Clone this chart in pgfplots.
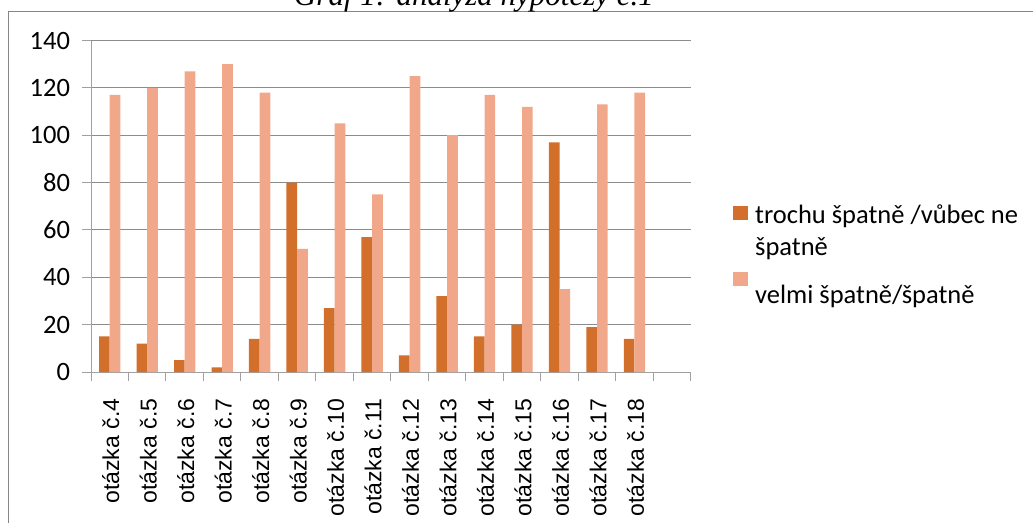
\documentclass[border=0pt]{standalone}
\usepackage{graphicx}
\usepackage{pgfplots}
\pgfplotsset{compat=1.18}
\usepackage{fontspec}
\setmainfont{Carlito}
\newfontfamily\arialfont{Liberation Sans}
\newfontfamily\timesfont{Liberation Serif}
\definecolor{darkbar}{RGB}{209,111,43}
\definecolor{lightbar}{RGB}{241,168,138}
\definecolor{gridgray}{RGB}{140,140,140}
\definecolor{axisgray}{RGB}{160,160,160}
\definecolor{framegray}{RGB}{134,134,134}
\newcommand{\rl}[1]{\rotatebox{90}{#1}}
\pgfplotsset{sqlegend/.style={legend image code/.code={\fill[##1] (0bp,-5bp) rectangle (15bp,9bp);}}}
\begin{document}
\begin{tikzpicture}[font=\fontsize{26.5bp}{32bp}\selectfont]
\useasboundingbox (0bp,0bp) rectangle (1033bp,-523bp);
\begin{scope}
\clip (0bp,0bp) rectangle (1033bp,-523bp);
\draw[framegray, line width=1bp] (8bp,-700bp) -- (8bp,-11bp) -- (1100bp,-11bp);
\node[anchor=base, font=\timesfont\itshape\fontsize{31bp}{36bp}\selectfont] at (474bp,-5bp) {Graf 1: analýza hypotézy č.1};
\end{scope}
\begin{axis}[
  at={(91bp,-372bp)}, anchor=south west,
  scale only axis, width=599.7bp, height=331.5bp,
  xmin=0.5, xmax=16.5, ymin=0, ymax=140,
  ytick={0,20,...,140},
  xtick={0.5,1.5,...,16.5},
  x tick label as interval,
  xticklabels={\rl{otázka č.4},\rl{otázka č.5},\rl{otázka č.6},\rl{otázka č.7},\rl{otázka č.8},\rl{otázka č.9},\rl{otázka č.10},\rl{otázka č.11},\rl{otázka č.12},\rl{otázka č.13},\rl{otázka č.14},\rl{otázka č.15},\rl{otázka č.16},\rl{otázka č.17},\rl{otázka č.18},{}},
  xticklabel style={font=\arialfont\fontsize{23bp}{27bp}\selectfont, anchor=north, inner sep=0pt, yshift=-18bp, xshift=1bp},
  yticklabel style={font=\fontsize{26.5bp}{32bp}\selectfont, xshift=-9bp},
  /pgf/number format/assume math mode=true,
  axis x line*=bottom, axis y line*=left,
  axis line style={axisgray, line width=1bp},
  tick align=outside, major tick length=8.5bp,
  tick style={axisgray, line width=1bp},
  ymajorgrids, grid style={gridgray, line width=1bp},
  ybar, bar width=0.285,
  legend style={at={(1.0705,0.5038)}, anchor=north west, draw=none, fill=none, inner sep=0pt,
    nodes={inner sep=0pt}, column sep=7bp, row sep=0pt, font=\fontsize{26.5bp}{32bp}\selectfont},
  legend cell align=left,
]
\addplot[fill=darkbar, draw=none, bar shift=-0.1425, sqlegend] coordinates {
(1,15) (2,12) (3,5) (4,2) (5,14) (6,80) (7,27) (8,57) (9,7) (10,32) (11,15) (12,20) (13,97) (14,19) (15,14)};
\addlegendentry{trochu špatně /vůbec ne}
\addlegendimage{empty legend}
\addlegendentry{\rule{0pt}{30bp}špatně}
\addplot[fill=lightbar, draw=none, bar shift=0.1425, sqlegend] coordinates {
(1,117) (2,120) (3,127) (4,130) (5,118) (6,52) (7,105) (8,75) (9,125) (10,100) (11,117) (12,112) (13,35) (14,113) (15,118)};
\addlegendentry{\rule{0pt}{47bp}velmi špatně/špatně}
\end{axis}
\end{tikzpicture}
\end{document}
